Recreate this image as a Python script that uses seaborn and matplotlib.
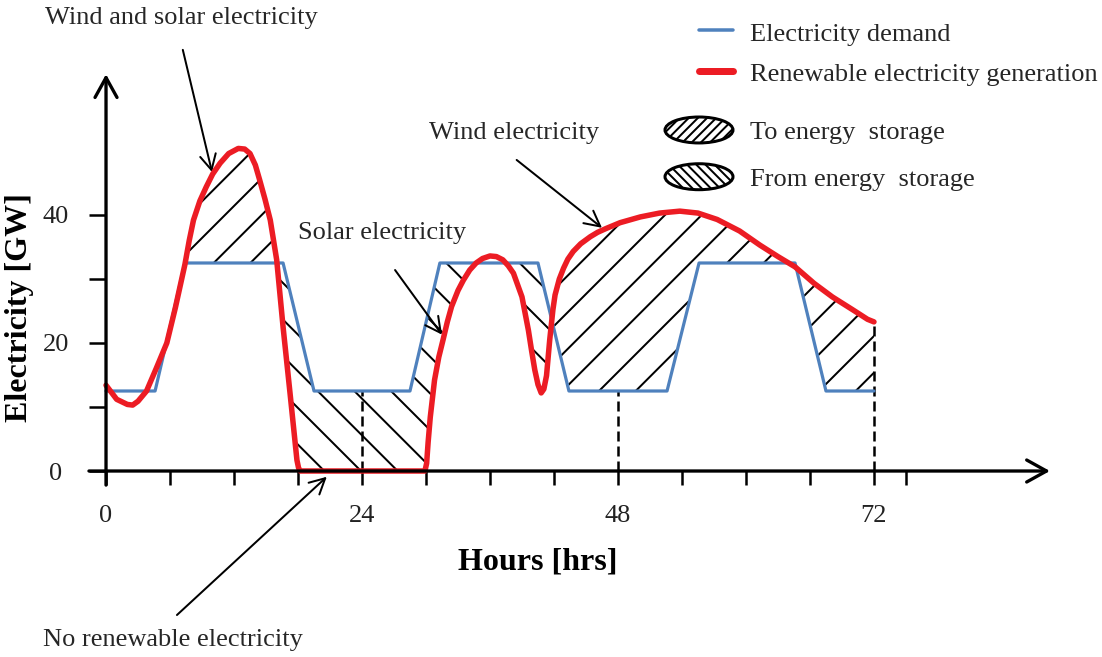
import numpy as np
import matplotlib
matplotlib.use('Agg')
import matplotlib.pyplot as plt
import matplotlib.patches as mpatches
from matplotlib.lines import Line2D
from matplotlib.legend_handler import HandlerLine2D, HandlerPatch
import seaborn as sns

# data
gen_hours = [0, 1, 2, 2.5, 3, 3.8, 4.7, 5.7, 6.5, 7.4, 7.8, 8.2, 8.8, 9.4, 10, 10.7,
             11.5, 12.4, 13, 13.5, 14, 14.4, 14.9, 15.4, 16, 16.6, 17.25, 17.9, 18.05,
             18.2, 24, 29.9, 30.06, 30.2, 30.4, 30.8, 31.2, 31.6, 32, 32.4, 33, 33.5,
             34.1, 34.7, 35.3, 36, 36.6, 37.2, 37.7, 38.2, 39, 39.6, 39.9, 40.2, 40.5,
             40.8, 41.05, 41.3, 41.6, 41.9, 42.1, 42.5, 42.9, 43.3, 43.8, 44.5, 45.4,
             46.1, 46.9, 48.2, 50.1, 51.9, 53.8, 55.5, 57.3, 59.4, 61.3, 63, 64.6,
             66.4, 68.1, 70, 71.4, 72]
generation = [13.4, 11.2, 10.4, 10.3, 10.9, 12.5, 16, 20, 25.5, 32.3, 36, 39.2, 42.2,
              44.4, 46.4, 48.1, 49.6, 50.4, 50.3, 49.6, 47.8, 45.5, 42.5, 39.2, 33,
              22.5, 12.2, 1.7, 0.5, 0, 0, 0, 1.2, 4.5, 8.4, 14.2, 17.8, 20.5, 23.3,
              25.7, 28.2, 29.8, 31.4, 32.5, 33.2, 33.6, 33.5, 33, 32.1, 30.9, 27.2,
              22, 18.8, 15.8, 13.5, 12.2, 12.8, 14.9, 20.5, 25.2, 27.5, 30, 31.7,
              33.1, 34.3, 35.5, 36.6, 37.3, 37.9, 38.8, 39.7, 40.3, 40.6, 40.3, 39.3,
              37.5, 35.3, 33.5, 31.9, 29.3, 27.2, 25.2, 23.7, 23.3]

dem_hours = [0, 4.6, 7.4, 16.6, 19.5, 28.5, 31.3, 40.5, 43.4, 52.6, 55.6, 64.6, 67.5, 72]
demand = [12.5, 12.5, 32.5, 32.5, 12.5, 12.5, 32.5, 32.5, 12.5, 12.5, 32.5, 32.5, 12.5, 12.5]

dash_hours = [24, 48, 72]
dash_tops = [12.5, 12.5, 23.3]

x_ticks = [0, 6, 12, 18, 24, 30, 36, 42, 48, 54, 60, 66, 72, 75]
x_tick_labels = ['0', '', '', '', '24', '', '', '', '48', '', '', '', '72', '']
y_ticks = [0, 10, 20, 30, 40]
y_tick_labels = ['0', '', '20', '', '40']

line_labels = ['Electricity demand', 'Renewable electricity generation']
hatch_labels = ['To energy  storage', 'From energy  storage']

DPI = 220
BLUE = '#4f81bd'
RED = '#ec1c24'


def px(v):
    return v * 72 / DPI


FS = px(26.4)
LAB = px(32)

sns.set_theme(style='white')
plt.rcParams['font.family'] = ['Liberation Serif', 'DejaVu Serif']
plt.rcParams['hatch.linewidth'] = px(2)

fig = plt.figure(figsize=(1102 / DPI, 657 / DPI), dpi=DPI)
ax = fig.add_axes([0, 0, 1, 1])
ax.set_xlim(-9.94, 93.38)
ax.set_ylim(-29.06, 73.59)

# shading between the curves
grid = np.union1d(gen_hours, dem_hours)
red = np.interp(grid, gen_hours, generation)
blue = np.interp(grid, dem_hours, demand)
to_mask = (red >= blue) & (((grid > 7) & (grid < 17)) | (grid > 41))
from_mask = (red <= blue) & (grid > 10)
ax.fill_between(grid, red, blue, where=to_mask, interpolate=True,
                facecolor='none', edgecolor='black', hatch='//', linewidth=0, zorder=1)
ax.fill_between(grid, red, blue, where=from_mask, interpolate=True,
                facecolor='none', edgecolor='black', hatch='\\\\', linewidth=0, zorder=1)

ax.vlines(dash_hours, 0, dash_tops, colors='black', linestyles=(0, (4, 2)),
          lw=px(2.5), zorder=2)

sns.lineplot(x=dem_hours, y=demand, ax=ax, color=BLUE, lw=px(3.2), zorder=3)
sns.lineplot(x=gen_hours, y=generation, ax=ax, color=RED, lw=px(5.5), zorder=4,
             solid_joinstyle='round', solid_capstyle='round')

# axes with arrows
for s in ax.spines.values():
    s.set_visible(False)
ax.spines['left'].set_position(('data', 0))
ax.spines['bottom'].set_position(('data', 0))
axis_arrow = dict(arrowstyle='->,head_length=0.65,head_width=0.36', lw=px(3.3),
                  color='black', shrinkA=0, shrinkB=0, mutation_scale=10)
ax.annotate('', xy=(88.5, 0), xytext=(-1.6, 0), arrowprops=axis_arrow, zorder=5)
ax.annotate('', xy=(0, 62), xytext=(0, -2.2), arrowprops=axis_arrow, zorder=5)

ax.set_xticks(x_ticks)
ax.set_xticklabels(x_tick_labels)
ax.set_yticks(y_ticks)
ax.set_yticklabels(y_tick_labels)
ax.tick_params(axis='x', bottom=True, length=px(14), width=px(2.5), direction='out',
               pad=px(20), labelsize=FS, color='black', labelcolor='#222222')
ax.tick_params(axis='y', left=True, length=px(17), width=px(2.5), direction='out',
               pad=px(33), labelsize=FS, color='black', labelcolor='#222222')
for lab in ax.get_yticklabels():
    lab.set_ha('center')
ax.grid(False)

ax.set_xlabel('Hours [hrs]', fontsize=LAB, fontweight='bold', color='black')
ax.xaxis.set_label_coords(538 / 1102, 1 - 548 / 657)
ax.set_ylabel('Electricity [GW]', fontsize=LAB, fontweight='bold', color='black')
ax.yaxis.set_label_coords(34 / 1102, 1 - 308 / 657)

# annotations
note_arrow = dict(arrowstyle='->,head_length=0.5,head_width=0.26', lw=px(2),
                  color='black', shrinkA=0, shrinkB=0, mutation_scale=10)
ax.text(7.1, 70.8, 'Wind and solar electricity', ha='center', va='center', fontsize=FS)
ax.annotate('', xy=(9.94, 46.7), xytext=(7.2, 65.8), arrowprops=note_arrow,
            annotation_clip=False)
ax.text(25.9, 37.2, 'Solar electricity', ha='center', va='center', fontsize=FS)
ax.annotate('', xy=(31.5, 21.3), xytext=(27.1, 31.4), arrowprops=note_arrow,
            annotation_clip=False)
ax.text(38.3, 52.8, 'Wind electricity', ha='center', va='center', fontsize=FS)
ax.annotate('', xy=(46.5, 38.0), xytext=(38.5, 48.6), arrowprops=note_arrow,
            annotation_clip=False)
ax.text(6.3, -26.4, 'No renewable electricity', ha='center', va='center', fontsize=FS)
ax.annotate('', xy=(20.7, -0.9), xytext=(6.65, -22.5), arrowprops=note_arrow,
            annotation_clip=False)


# legends
class ShortLine(HandlerLine2D):
    def get_xdata(self, legend, xdescent, ydescent, width, height, fontsize):
        xd = np.array([0.5 * width - xdescent, width - xdescent])
        return xd, xd


def ellipse(legend, orig_handle, xdescent, ydescent, width, height, fontsize):
    return mpatches.Ellipse(xy=(0.5 * width - xdescent, 0.5 * height - ydescent),
                            width=width, height=height)


line_handles = [
    Line2D([], [], color=BLUE, lw=px(3.5)),
    Line2D([], [], color=RED, lw=px(7)),
]
hatch_handles = [
    mpatches.Patch(facecolor='white', edgecolor='black', hatch='////////', lw=px(3)),
    mpatches.Patch(facecolor='white', edgecolor='black', hatch='\\\\\\\\\\\\\\\\', lw=px(3)),
]
common = dict(loc='upper left', frameon=False, fontsize=FS, handlelength=68 / 26.4,
              handletextpad=17 / 26.4, borderpad=0, borderaxespad=0)
fig.legend(line_handles, line_labels, bbox_to_anchor=(665 / 1102, 1 - 20 / 657),
           handleheight=1.0, labelspacing=0.55, handler_map={Line2D: ShortLine()},
           **common)
fig.legend(hatch_handles, hatch_labels, bbox_to_anchor=(665 / 1102, 1 - 117 / 657),
           handleheight=30 / 26.4, labelspacing=0.75,
           handler_map={mpatches.Patch: HandlerPatch(patch_func=ellipse)}, **common)

fig.savefig('out.png', dpi=DPI)
